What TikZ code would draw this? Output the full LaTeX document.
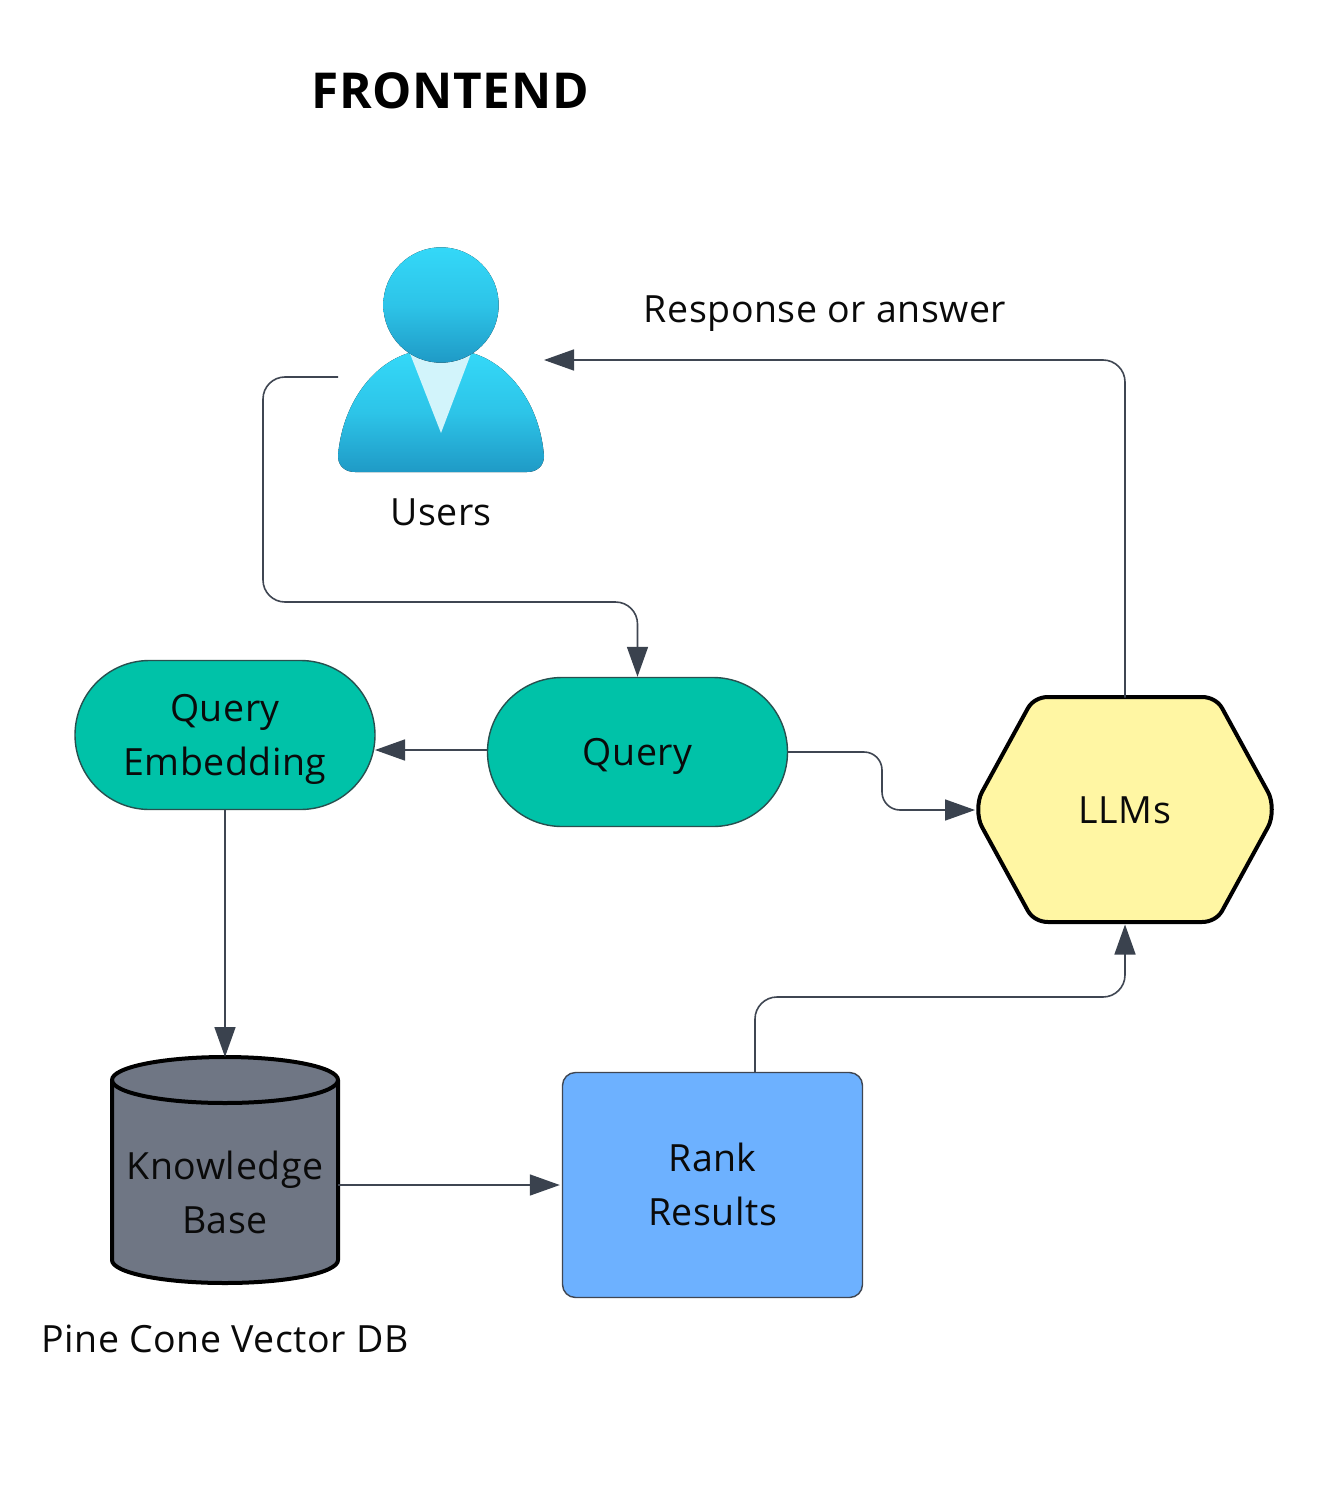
\documentclass[tikz,border=0pt]{standalone}
\usepackage{fontspec}
\setmainfont[LetterSpace=1.4]{Open Sans}
\usetikzlibrary{arrows.meta,calc}
\definecolor{conn}{HTML}{3F4652}
\definecolor{arrowc}{HTML}{3A424E}
\definecolor{teal}{HTML}{00C2A8}
\definecolor{pillline}{HTML}{28504F}
\definecolor{hexfill}{HTML}{FFF6A3}
\definecolor{rankfill}{HTML}{6DB1FF}
\definecolor{cylfill}{HTML}{6F7684}
\definecolor{ink}{HTML}{0A0A0A}
\definecolor{usertop}{HTML}{34D8F8}
\definecolor{usermid}{HTML}{2DC4E8}
\definecolor{userbot}{HTML}{1F9AC6}
\definecolor{uservee}{HTML}{D2F4FB}
\newcommand\tline[1]{\rule{0pt}{27pt}\smash{#1}}
\tikzset{
  x=1pt,y=-1pt,
  lbl/.style={font=\fontsize{37.5}{54}\selectfont,text=ink,align=center,inner sep=0pt},
  pill/.style={draw=pillline,line width=1.4pt,fill=teal,rounded corners=74.5pt,minimum width=300pt,minimum height=149pt,lbl},
  rankbox/.style={draw=conn,line width=1.4pt,fill=rankfill,rounded corners=13pt,minimum width=300pt,minimum height=225pt,lbl},
  ghost/.style={inner sep=0pt,outer sep=0pt},
  conline/.style={draw=conn,line width=1.6pt,rounded corners=22pt},
  arr/.style={conline,-{Triangle[length=30pt,width=21pt,color=arrowc]}},
  heavy/.style={draw=black,line width=4pt,line join=round},
  usergrad/.style={top color=usertop,bottom color=userbot,middle color=usermid},
}
\begin{document}
\begin{tikzpicture}
\useasboundingbox (0,0) rectangle (1343,1503);
\fill[white] (0,0) rectangle (1343,1503);

% text
\node[font=\fontsize{49.5}{56}\bfseries\selectfont,text=black,inner sep=0pt] (title) at (450,91) {FRONTEND};
\node[lbl] (resp) at (825,309) {\tline{Response or answer}};
\node[lbl] (ulabel) at (441,512) {\tline{Users}};
\node[lbl] (pine) at (225,1339) {\tline{Pine Cone Vector DB}};

% user icon
\node[ghost,minimum width=206pt,minimum height=224pt] (user) at (441,360) {};
\coordinate (userout) at (338,377);
\coordinate (userin) at (544,360);
\fill[usergrad]
  (338,456) .. controls (342,405) and (372,364) .. (409,353)
  -- (472,353) .. controls (510,364) and (540,405) .. (544,456)
  .. controls (544,466) and (537,472) .. (527,472)
  -- (355,472) .. controls (345,472) and (338,466) .. (338,456) -- cycle;
\fill[uservee] (409,351) -- (472,351) -- (441,433) -- cycle;
\fill[usergrad] (441,305) circle[radius=57.7];

% nodes
\node[pill] (qe) at (225,735) {\tline{Query}\\\tline{Embedding}};
\node[pill] (q) at (637.5,752) {\tline{Query}};
\node[ghost,minimum width=294pt,minimum height=225pt] (llm) at (1125,810) {};
\draw[heavy,fill=hexfill]
  (1125,697) -- (1202,697)
  .. controls (1210,697) and (1218,701) .. (1222,708)
  -- (1268,792) .. controls (1273,801) and (1273,818) .. (1268,827)
  -- (1222,911) .. controls (1218,918) and (1210,922) .. (1202,922)
  -- (1048,922) .. controls (1040,922) and (1032,918) .. (1028,911)
  -- (982,827) .. controls (977,818) and (977,801) .. (982,792)
  -- (1028,708) .. controls (1032,701) and (1040,697) .. (1048,697) -- cycle;
\node[lbl] at (llm.center) {\tline{LLMs}};

\node[ghost,minimum width=226pt,minimum height=226pt] (kb) at (225,1170) {};
\draw[heavy,fill=cylfill]
  (112,1080) .. controls (112,1067.3) and (162.6,1057) .. (225,1057)
  .. controls (287.4,1057) and (338,1067.3) .. (338,1080)
  -- (338,1260) .. controls (338,1272.7) and (287.4,1283) .. (225,1283)
  .. controls (162.6,1283) and (112,1272.7) .. (112,1260) -- cycle;
\draw[heavy] (112,1080) .. controls (112,1092.7) and (162.6,1103) .. (225,1103)
  .. controls (287.4,1103) and (338,1092.7) .. (338,1080);
\node[lbl] at (225,1193) {\tline{Knowledge}\\\tline{Base}};

\node[rankbox] (rank) at (712.5,1185) {\tline{Rank}\\\tline{Results}};

% connectors
\draw[arr] (userout) -- (263,377) -- (263,602) -- (q.north |- 0,602) -- (q.north);
\draw[arr] (q.west |- 0,750) -- (375,750);
\draw[arr,rounded corners=18pt] (q.east) -- (882,752) -- (882,810) -- ($(llm.west)+(-3,0)$);
\draw[arr] (llm.north) -- (1125,360) -- (userin);
\draw[arr] (qe.south) -- (kb.north);
\draw[arr] (kb.east |- 0,1185) -- ($(rank.west)+(-2,0)$);
\draw[arr] (755,1072) -- (755,997) -- (1125,997) -- ($(llm.south)+(0,2)$);
\end{tikzpicture}
\end{document}
